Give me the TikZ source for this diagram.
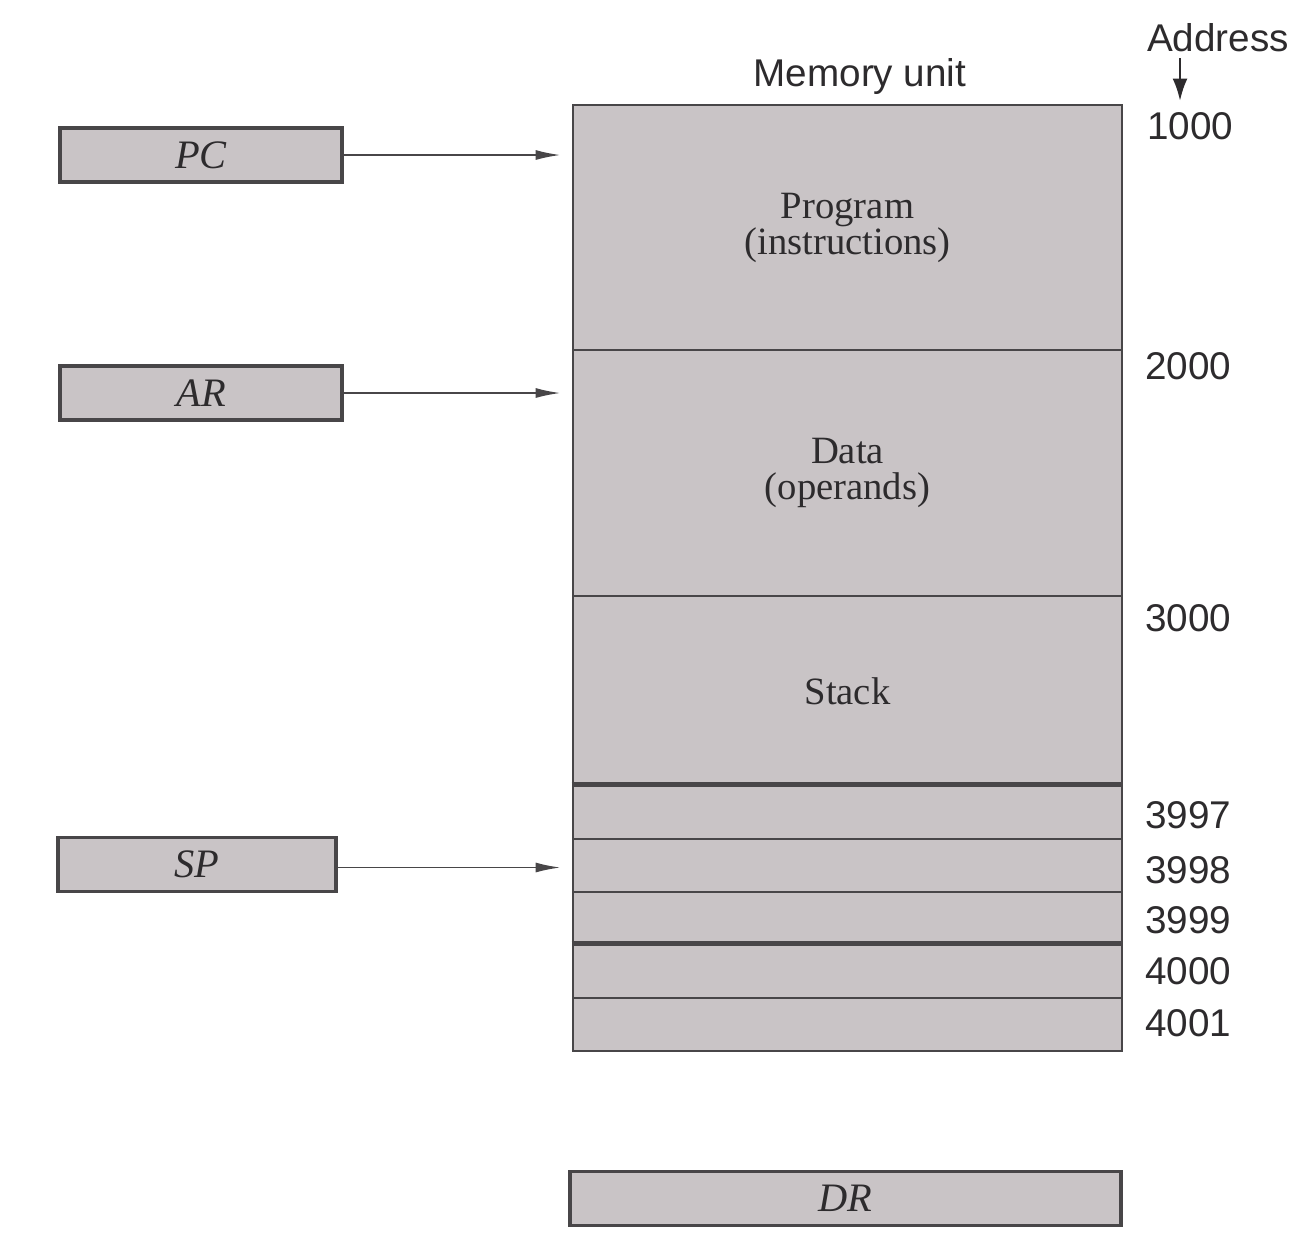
\documentclass[tikz,border=0pt]{standalone}
\usepackage{fontspec}
\setmainfont{Liberation Serif}
\newfontfamily\addrfont{Liberation Sans}
\usetikzlibrary{arrows.meta,positioning,calc}
\definecolor{memfill}{RGB}{201,196,198}
\definecolor{edge}{RGB}{72,70,72}
\definecolor{ink}{RGB}{45,43,45}

\begin{document}
\begin{tikzpicture}[
  x=0.02cm, y=-0.02cm,
  font=\fontsize{23}{26}\selectfont, text=ink,
  >={Latex[length=5mm,width=2mm]},
  region/.style={draw=edge, fill=memfill, line width=1.6pt, minimum width=10.98cm, inner sep=0pt, align=center,
    font=\fontsize{22}{20.5}\selectfont},
  cell/.style={region, minimum height=1.06cm},
  reg/.style={draw=edge, fill=memfill, line width=2pt, minimum height=1.08cm, inner sep=0pt, font=\fontsize{23}{26}\selectfont\itshape},
  addr/.style={anchor=west, font=\addrfont\fontsize{22}{24}\selectfont, inner sep=0pt},
  ptr/.style={->, line width=1.1pt, draw=edge, shorten >=0.22cm},
  split/.style={draw=edge, line width=3pt},
]
\useasboundingbox (0,0) rectangle (1293,1249);

% ------------------------------------------------------------------ memory unit
\node[region, minimum height=4.9cm] (prog) at (847.5,227.5) {Program\\(instructions)};
\node[region, minimum height=4.92cm] (data) at (847.5,473) {Data\\(operands)};
\node[region, minimum height=3.8cm] (stack) at (847.5,691) {Stack};
\foreach \n/\y in {3997/812.5,3998/865.5,3999/918.5,4000/971.5,4001/1024.5}
  \node[cell] (c\n) at (847.5,\y) {};
\draw[split] (c3997.north west) -- (c3997.north east);
\draw[split] (c4000.north west) -- (c4000.north east);

\node[font=\addrfont\fontsize{22}{24}\selectfont] (memlbl) at (860,76) {Memory unit};

% ------------------------------------------------------------------ addresses
\node[font=\addrfont\fontsize{22}{24}\selectfont] (addrhd) at (1218,38) {Address};
\coordinate (addrtip) at (1180,101);
\draw[->, line width=1.5pt, draw=ink, >={Latex[length=4.5mm,width=3mm]}] (addrhd.south -| addrtip) -- (addrtip);

\node[addr] (a1000) at (1147,126) {1000};
\node[addr] (a2000) at (1145,366) {2000};
\node[addr] (a3000) at (1145,618) {3000};
\node[addr] (a3997) at (1145,815) {3997};
\node[addr] (a3998) at (1145,870) {3998};
\node[addr] (a3999) at (1145,920) {3999};
\node[addr] (a4000) at (1145,971) {4000};
\node[addr] (a4001) at (1145,1023) {4001};

% ------------------------------------------------------------------ registers
\node[reg, minimum width=5.64cm] (pc) at (201,155) {PC};
\node[reg, minimum width=5.64cm] (ar) at (201,393) {AR};
\node[reg, minimum width=5.56cm] (sp) at (197,864.5) {SP};
\node[reg, minimum width=11.02cm] (dr) at (845.5,1198.5) {DR};

\draw[ptr] (pc.east) -- (pc.east -| prog.west);
\draw[ptr] (ar.east) -- (ar.east -| data.west);
\draw[ptr] ([yshift=-0.06cm]sp.east) -- ([yshift=-0.06cm]sp.east -| c3998.west);
\end{tikzpicture}
\end{document}
